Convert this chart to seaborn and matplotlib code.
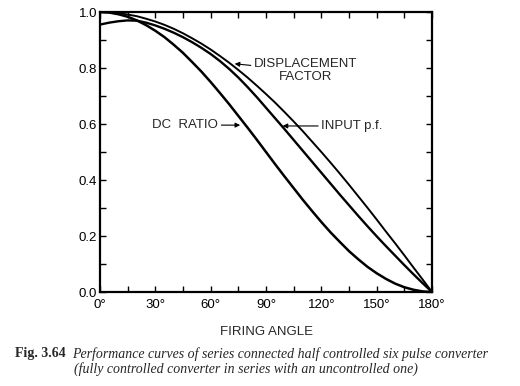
import matplotlib
matplotlib.use("Agg")
import matplotlib.pyplot as plt
from matplotlib.ticker import MultipleLocator
import seaborn as sns

# firing angle (deg) and curve values
angles = [0, 5, 10, 15, 20, 25, 30, 35, 40, 45, 50, 55, 60, 65, 70, 75, 80, 85, 90,
          95, 100, 105, 110, 115, 120, 125, 130, 135, 140, 145, 150, 155, 160, 165,
          170, 175, 180]
displacement_factor = [1.000, 0.999, 0.996, 0.991, 0.985, 0.976, 0.966, 0.954, 0.940,
                       0.924, 0.906, 0.887, 0.866, 0.843, 0.819, 0.793, 0.766, 0.737,
                       0.707, 0.676, 0.643, 0.609, 0.574, 0.537, 0.500, 0.462, 0.423,
                       0.383, 0.342, 0.301, 0.259, 0.216, 0.174, 0.131, 0.087, 0.044,
                       0.000]
input_pf = [0.955, 0.962, 0.967, 0.970, 0.969, 0.962, 0.952, 0.940, 0.926, 0.910,
            0.892, 0.872, 0.850, 0.825, 0.797, 0.766, 0.732, 0.696, 0.658, 0.620,
            0.582, 0.543, 0.504, 0.465, 0.426, 0.387, 0.348, 0.310, 0.272, 0.235,
            0.199, 0.164, 0.130, 0.096, 0.063, 0.031, 0.000]
dc_ratio = [1.000, 0.998, 0.992, 0.983, 0.970, 0.953, 0.933, 0.910, 0.883, 0.854,
            0.821, 0.787, 0.750, 0.711, 0.671, 0.629, 0.587, 0.544, 0.500, 0.456,
            0.413, 0.371, 0.329, 0.289, 0.250, 0.213, 0.179, 0.146, 0.117, 0.090,
            0.067, 0.047, 0.030, 0.017, 0.008, 0.002, 0.000]

x_ticks = [0, 30, 60, 90, 120, 150, 180]
x_labels = [f"{t}\u00b0" for t in x_ticks]
y_ticks = [0.0, 0.2, 0.4, 0.6, 0.8, 1.0]

sns.set_style("ticks")
plt.rcParams['font.family'] = ['Liberation Sans', 'DejaVu Sans']

fig = plt.figure(figsize=(5.2, 3.86), dpi=100)
ax = fig.add_axes([0.1923, 0.2435, 0.6385, 0.7254])

sns.lineplot(x=angles, y=displacement_factor, color='black', lw=1.4, ax=ax)
sns.lineplot(x=angles, y=input_pf, color='black', lw=1.7, ax=ax)
sns.lineplot(x=angles, y=dc_ratio, color='black', lw=1.8, ax=ax)

ax.set_xlim(0, 180)
ax.set_ylim(0, 1.0)
ax.set_xticks(x_ticks)
ax.set_xticklabels(x_labels)
ax.set_yticks(y_ticks)
ax.set_yticklabels([f"{v:.1f}" for v in y_ticks])
ax.xaxis.set_minor_locator(MultipleLocator(15))
ax.yaxis.set_minor_locator(MultipleLocator(0.1))
ax.tick_params(which='both', direction='in', top=True, right=True,
               length=4, width=1.0, colors='black', labelsize=9.5)
ax.tick_params(axis='y', pad=2)
ax.tick_params(axis='x', pad=5)
for s in ax.spines.values():
    s.set_linewidth(1.6)
    s.set_color('black')

ax.set_xlabel("FIRING ANGLE", fontsize=9.5, labelpad=11)

arrow = dict(arrowstyle='-|>', color='black', lw=0.8, mutation_scale=7,
             shrinkA=0, shrinkB=0)
ax.annotate("DISPLACEMENT\nFACTOR", xy=(73, 0.815), xytext=(83.5, 0.79),
            ha='left', va='center', multialignment='center', fontsize=9.5,
            linespacing=1.1, arrowprops=arrow)
ax.annotate("INPUT p.f.", xy=(99, 0.593), xytext=(120, 0.593),
            ha='left', va='center', fontsize=9.5, arrowprops=arrow)
ax.annotate("DC  RATIO", xy=(76, 0.596), xytext=(64, 0.596),
            ha='right', va='center', fontsize=9.5, arrowprops=arrow)

fig.text(0.029, 0.083, "Fig. 3.64", fontsize=10, fontweight='bold',
         family='Liberation Serif', va='center')
fig.text(0.138, 0.083,
         "Performance curves of series connected half controlled six pulse converter",
         fontsize=10, style='italic', family='Liberation Serif', va='center')
fig.text(0.142, 0.044,
         "(fully controlled converter in series with an uncontrolled one)",
         fontsize=10, style='italic', family='Liberation Serif', va='center')

fig.savefig("out.png", dpi=100)
